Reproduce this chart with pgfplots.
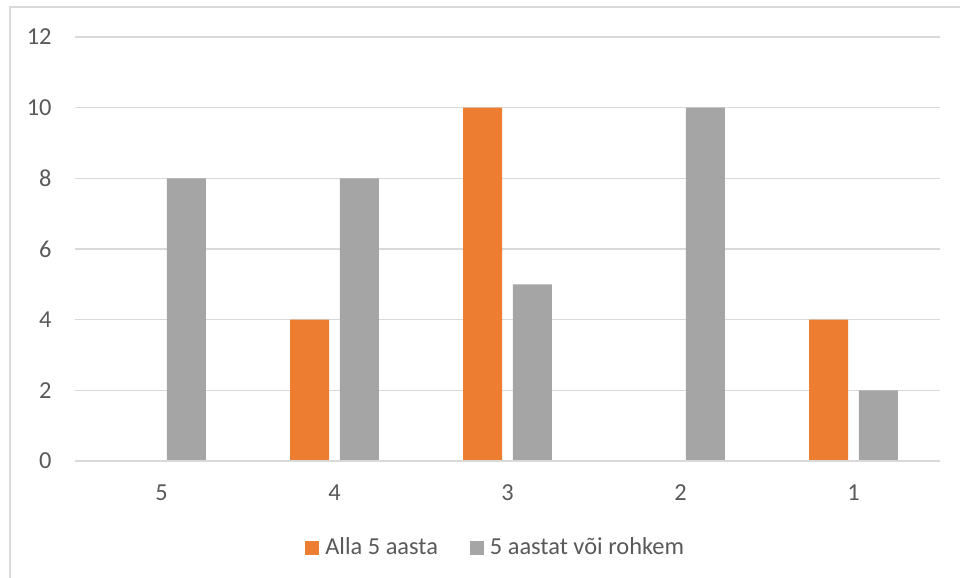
\documentclass[border=0pt]{standalone}
\usepackage{fontspec}
\setmainfont{Carlito}
\usepackage{pgfplots}
\pgfplotsset{compat=1.18}

\definecolor{barorange}{HTML}{ED7D31}
\definecolor{bargray}{HTML}{A5A5A5}
\definecolor{labelgray}{HTML}{595959}
\definecolor{gridgray}{HTML}{D9D9D9}

\begin{document}
\begin{tikzpicture}
% page: 480bp x 289bp
\useasboundingbox (0,0) rectangle (480bp,289bp);
% chart frame (left and top edges)
\draw[gridgray, line width=1bp] (5bp,-2bp) -- (5bp,285.5bp) -- (485bp,285.5bp);

\begin{axis}[
  at={(37.5bp,58.5bp)}, anchor=south west,
  scale only axis,
  width=432.5bp, height=212bp,
  xmin=-0.5, xmax=4.5,
  ymin=0, ymax=12,
  xtick={0,1,2,3,4},
  xticklabels={5,4,3,2,1},
  ytick={0,2,...,12},
  major tick length=0pt,
  axis line style={draw=none},
  ymajorgrids,
  grid style={gridgray, line width=0.6bp},
  /pgf/number format/assume math mode=true,
  tick label style={font=\fontsize{12.2bp}{14bp}\selectfont, text=labelgray},
  yticklabel style={anchor=east, inner sep=0pt, xshift=-11.5bp},
  xticklabel style={anchor=north, inner sep=0pt, yshift=-11.5bp},
  legend columns=2,
  legend style={draw=none, fill=none,
    font=\fontsize{12.2bp}{14bp}\selectfont, text=labelgray,
    at={(0.4875,-0.205)}, anchor=center,
    /tikz/every even column/.append style={column sep=14bp},
    inner sep=0pt},
  legend image code/.code={%
    \fill[#1] (0bp,-3.5bp) rectangle (7bp,3.5bp);
    \path (0bp,0bp) -- (8bp,0bp);},
  bar width=19.5bp,
]
\addplot[ybar, bar shift=-12.4bp, fill=barorange, draw=none]
  coordinates {(0,0) (1,4) (2,10) (3,0) (4,4)};
\addlegendentry{Alla 5 aasta}
\addplot[ybar, bar shift=12.4bp, fill=bargray, draw=none]
  coordinates {(0,8) (1,8) (2,5) (3,10) (4,2)};
\addlegendentry{5 aastat või rohkem}
% horizontal axis line
\draw[gridgray, line width=1bp] (axis cs:-0.5,0) -- (axis cs:4.5,0);
\end{axis}
\end{tikzpicture}
\end{document}
